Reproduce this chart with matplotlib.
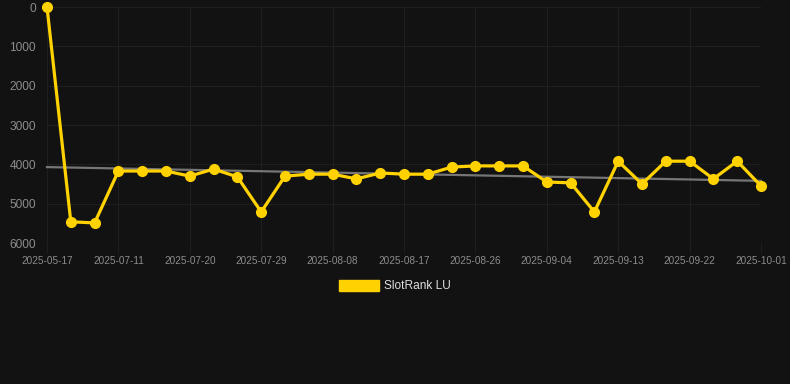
import numpy as np
import matplotlib.pyplot as plt
from matplotlib.patches import Patch

plt.rcParams['font.family'] = ['Liberation Sans', 'DejaVu Sans']

# rank values per observation (lower is better, axis inverted)
ranks = [0, 5460, 5490, 4170, 4170, 4170, 4300, 4120, 4320, 5210,
         4300, 4250, 4250, 4370, 4220, 4250, 4250, 4070, 4040, 4040,
         4040, 4450, 4470, 5210, 3920, 4500, 3920, 3920, 4370, 3920, 4550]
tick_labels = ["2025-05-17", "2025-07-11", "2025-07-20", "2025-07-29",
               "2025-08-08", "2025-08-17", "2025-08-26", "2025-09-04",
               "2025-09-13", "2025-09-22", "2025-10-01"]
trend_ends = [4070, 4420]

bg = "#121212"
yellow = "#FFD200"

fig = plt.figure(figsize=(7.9, 3.84), dpi=100, facecolor=bg)
ax = fig.add_axes([47/790, 1-243/384, (761-47)/790, 236/384], facecolor=bg)

x = np.arange(len(ranks))
ax.plot([x[0], x[-1]], trend_ends, color="#767676", lw=1.6, zorder=2, clip_on=False)
ax.plot(x, ranks, color=yellow, lw=2.3, marker="o", ms=7,
        zorder=3, clip_on=False)

ax.set_xlim(0, len(ranks) - 1)
ax.set_ylim(6000, 0)
ax.set_yticks(range(0, 6001, 1000))
ax.set_xticks(x[::3])
ax.set_xticklabels(tick_labels)

ax.grid(True, color="#1f1f1f", lw=0.8)
for s in ax.spines.values():
    s.set_visible(False)
ax.tick_params(axis="y", length=0, pad=8, labelsize=8.6, labelcolor="#8c8c8c")
ax.tick_params(axis="x", length=7, color="#1f1f1f", pad=2, labelsize=7.2,
               labelcolor="#8c8c8c")

handle = Patch(facecolor=yellow, edgecolor=yellow)
fig.legend([handle], ["SlotRank LU"], loc="center", bbox_to_anchor=(0.5, 1-286/384),
           frameon=False, fontsize=8.6, labelcolor="#dddddd",
           handlelength=3.3, handleheight=1.1, handletextpad=0.45)

fig.savefig("out.png", dpi=100, facecolor=bg)
